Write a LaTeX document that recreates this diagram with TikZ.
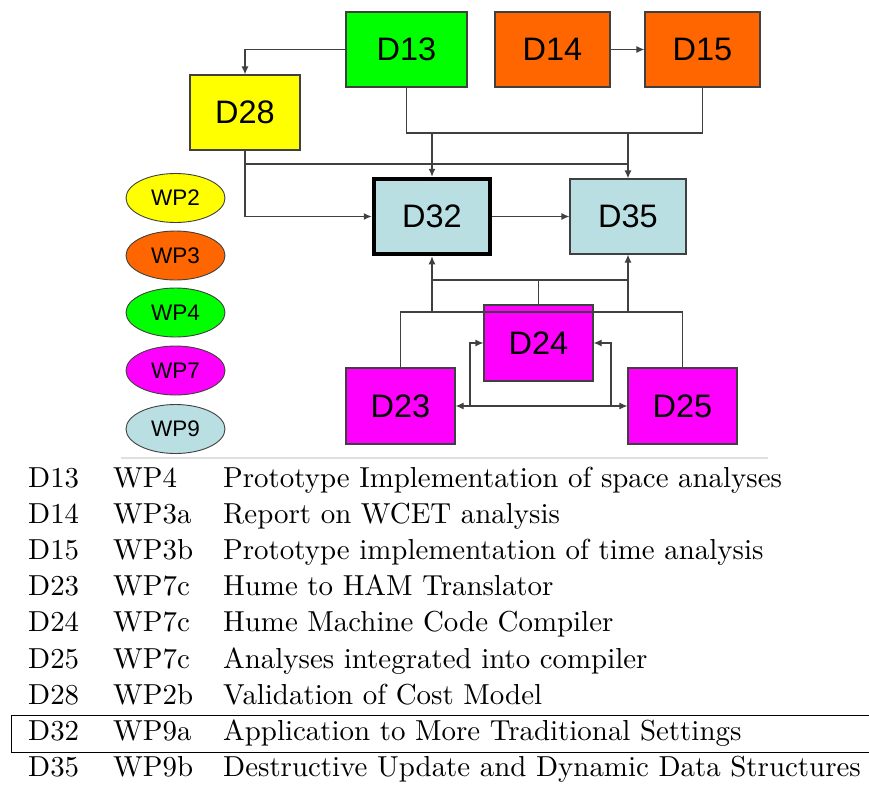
\documentclass[tikz,border=0pt]{standalone}
\usepackage{fontspec}
\newfontfamily\boxfont{Liberation Sans}
\newfontfamily\tabfont{lmroman10-regular}[Extension=.otf]
\usetikzlibrary{arrows.meta, shapes.geometric}

\definecolor{wpyellow}{HTML}{FFFF00}
\definecolor{wporange}{HTML}{FF6600}
\definecolor{wpgreen}{HTML}{00FF00}
\definecolor{wpmagenta}{HTML}{FF00FF}
\definecolor{wpblue}{HTML}{B9DFE3}
\definecolor{linegray}{HTML}{404040}

\tikzset{
    deliv/.style={draw=linegray, line width=1.2pt, inner sep=0pt, minimum height=75pt,
        font=\boxfont\fontsize{32.5}{38}\selectfont},
    wpkey/.style={ellipse, draw=linegray, line width=0.9pt, inner sep=0pt,
        minimum width=99pt, minimum height=49pt, font=\boxfont\fontsize{22.5}{26}\selectfont},
    link/.style={draw=linegray, line width=1.2pt},
    conn/.style={link, -{Latex[length=8pt,width=7pt]}},
    cell/.style={anchor=base west, inner sep=0pt, font=\tabfont\fontsize{28.9}{34}\selectfont}
}

\begin{document}
\begin{tikzpicture}[x=1pt, y=-1pt]
        \useasboundingbox (0,0) rectangle (869,785);

        % deliverables
        \node[deliv, fill=wpgreen, minimum width=121pt] (d13) at (406.5,49.5) {D13};
        \node[deliv, fill=wporange, minimum width=115pt] (d14) at (552.5,49.5) {D14};
        \node[deliv, fill=wporange, minimum width=115pt] (d15) at (702.5,49.5) {D15};
        \node[deliv, fill=wpyellow, minimum width=110pt] (d28) at (245,112.5) {D28};
        \node[deliv, fill=wpblue, draw=black, line width=4.5pt, minimum width=116pt] (d32) at (432,216.5) {D32};
        \node[deliv, fill=wpblue, minimum width=116pt] (d35) at (628,216.5) {D35};
        \node[deliv, fill=wpmagenta, minimum width=109pt, minimum height=76pt] (d24) at (538.5,343) {D24};
        \node[deliv, fill=wpmagenta, minimum width=109pt, minimum height=76pt] (d23) at (400.5,406) {D23};
        \node[deliv, fill=wpmagenta, minimum width=109pt, minimum height=76pt] (d25) at (682.5,406) {D25};

        % key
        \node[wpkey, fill=wpyellow] (wp2) at (175.5,198) {WP2};
        \node[wpkey, fill=wporange] (wp3) at (175.5,255.5) {WP3};
        \node[wpkey, fill=wpgreen] (wp4) at (175.5,312.5) {WP4};
        \node[wpkey, fill=wpmagenta] (wp7) at (175.5,370.5) {WP7};
        \node[wpkey, fill=wpblue] (wp9) at (175.5,429) {WP9};

        % upper connectors
        \coordinate (bus1) at (0,133);
        \coordinate (bus2) at (0,164);
        \draw[conn] (d13.west) -| (d28.north);
        \draw[conn] (d14) -- (d15);
        \draw[link] (d13.south) |- (d15.south |- bus1) -- (d15.south);
        \draw[conn] (d32.north |- bus1) -- (d32.north);
        \draw[conn] (d35.north |- bus1) -- (d35.north);
        \draw[conn] (d28.south) |- (d32.west);
        \draw[link] (d28.south |- bus2) -- (d35.north |- bus2);
        \draw[conn] (d32) -- (d35);

        % lower connectors
        \coordinate (bus3) at (0,280);
        \coordinate (bus4) at (0,312);
        \coordinate (lj) at (470,406);
        \coordinate (rj) at (611,406);
        \draw[link] (d24.north) -- (d24.north |- bus3);
        \draw[link] (d32.south |- bus3) -- (d35.south |- bus3);
        \draw[conn] (d32.south |- bus4) -- (d32.south);
        \draw[conn] (d35.south |- bus4) -- (d35.south);
        \draw[link] (d23.north) |- (d25.north |- bus4) -- (d25.north);
        \draw[conn, {Latex[length=8pt,width=7pt]}-{Latex[length=8pt,width=7pt]}] (d23.east) -- (d25.west);
        \draw[conn] (lj) |- (d24.west);
        \draw[conn] (rj) |- (d24.east);

        \draw[gray!25, line width=2pt] (121,458) -- (768,458);

        % table of deliverables
        \node[cell] (r13a) at (28,487) {D13};
        \node[cell] (r13b) at (113,487) {WP4};
        \node[cell] (r13c) at (223,487) {Prototype Implementation of space analyses};
        \node[cell] (r14a) at (28,523) {D14};
        \node[cell] (r14b) at (113,523) {WP3a};
        \node[cell] (r14c) at (223,523) {Report on WCET analysis};
        \node[cell] (r15a) at (28,559) {D15};
        \node[cell] (r15b) at (113,559) {WP3b};
        \node[cell] (r15c) at (223,559) {Prototype implementation of time analysis};
        \node[cell] (r23a) at (28,595) {D23};
        \node[cell] (r23b) at (113,595) {WP7c};
        \node[cell] (r23c) at (223,595) {Hume to HAM Translator};
        \node[cell] (r24a) at (28,631) {D24};
        \node[cell] (r24b) at (113,631) {WP7c};
        \node[cell] (r24c) at (223,631) {Hume Machine Code Compiler};
        \node[cell] (r25a) at (28,668) {D25};
        \node[cell] (r25b) at (113,668) {WP7c};
        \node[cell] (r25c) at (223,668) {Analyses integrated into compiler};
        \node[cell] (r28a) at (28,704) {D28};
        \node[cell] (r28b) at (113,704) {WP2b};
        \node[cell] (r28c) at (223,704) {Validation of Cost Model};
        \node[cell] (r32a) at (28,740) {D32};
        \node[cell] (r32b) at (113,740) {WP9a};
        \node[cell] (r32c) at (223,740) {Application to More Traditional Settings};
        \node[cell] (r35a) at (28,776) {D35};
        \node[cell] (r35b) at (113,776) {WP9b};
        \node[cell] (r35c) at (223,776) {Destructive Update and Dynamic Data Structures};

        \draw[line width=1pt] (870,715) -| (11,752) -- (870,752);
    \end{tikzpicture}
\end{document}
